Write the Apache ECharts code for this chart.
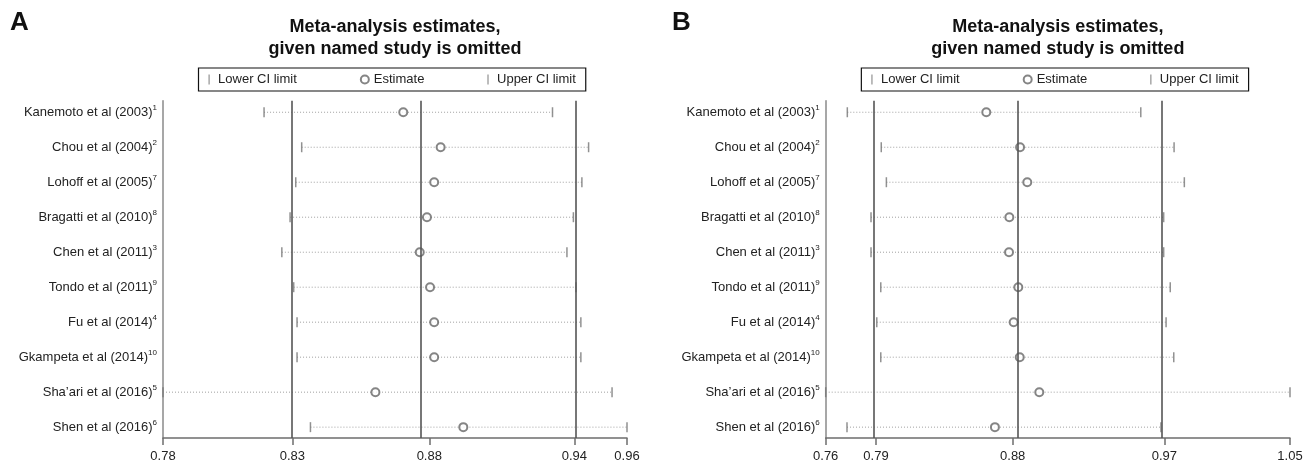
<!DOCTYPE html>
<html>
<head>
<meta charset="utf-8">
<script src="https://cdn.jsdelivr.net/npm/echarts@6/dist/echarts.min.js"></script>
<style>html,body{margin:0;padding:0;background:#fff;}#c{width:1312px;height:468px;}</style>
</head>
<body>
<div id="c"></div>
<script>
// ---- data ----
const studies = ['Kanemoto et al (2003)', 'Chou et al (2004)', 'Lohoff et al (2005)', 'Bragatti et al (2010)', 'Chen et al (2011)', 'Tondo et al (2011)', 'Fu et al (2014)', 'Gkampeta et al (2014)', 'Sha\u2019ari et al (2016)', 'Shen et al (2016)'];
const refNums = ['1', '2', '7', '8', '3', '9', '4', '10', '5', '6'];

const lowerA = [0.8192, 0.8338, 0.8315, 0.8293, 0.8261, 0.8307, 0.8320, 0.8320, 0.7800, 0.8372];
const estA   = [0.8732, 0.8877, 0.8852, 0.8824, 0.8796, 0.8836, 0.8852, 0.8852, 0.8624, 0.8965];
const upperA = [0.9311, 0.9451, 0.9425, 0.9392, 0.9367, 0.9402, 0.9421, 0.9421, 0.9542, 0.9600];
const overallA = [0.8302, 0.8833, 0.9396];
const tickValuesA = [0.7800, 0.8302, 0.8833, 0.9396, 0.9600];
const tickLabelsA = ['0.78', '0.83', '0.88', '0.94', '0.96'];

const lowerB = [0.7735, 0.7947, 0.7979, 0.7883, 0.7883, 0.7944, 0.7919, 0.7944, 0.7600, 0.7733];
const estB   = [0.8603, 0.8814, 0.8859, 0.8747, 0.8745, 0.8803, 0.8774, 0.8812, 0.8934, 0.8657];
const upperB = [0.9568, 0.9776, 0.9840, 0.9711, 0.9711, 0.9752, 0.9726, 0.9774, 1.0500, 0.9694];
const overallB = [0.7914, 0.8768, 0.9715];
const tickValuesB = [0.7600, 0.7914, 0.8768, 0.9715, 1.0500];
const tickLabelsB = ['0.76', '0.79', '0.88', '0.97', '1.05'];

const panelLetters = ['A', 'B'];
const titleText = 'Meta-analysis estimates,\ngiven named study is omitted';
const legendNames = ['Lower CI limit', 'Estimate', 'Upper CI limit'];

// ---- build ----
const FONT = '"Liberation Sans", Arial, Helvetica, sans-serif';
const rowIdx = studies.map((_, i) => i);
const panels = [
  {lower: lowerA, est: estA, upper: upperA, overall: overallA, ticks: tickValuesA, labels: tickLabelsA, left: 163, width: 464, min: 0.78, max: 0.96},
  {lower: lowerB, est: estB, upper: upperB, overall: overallB, ticks: tickValuesB, labels: tickLabelsB, left: 825.7, width: 464.3, min: 0.76, max: 1.05}
];

const grids = [], xAxes = [], yAxes = [], series = [], legends = [], graphics = [];

panels.forEach((p, k) => {
  grids.push({left: p.left, top: 100.7, width: p.width, height: 337.3, containLabel: false});
  xAxes.push({
    type: 'value', gridIndex: k, min: p.min, max: p.max, position: 'bottom',
    axisLine: {show: true, onZero: false, lineStyle: {color: '#6e6e6e', width: 1.5}},
    axisTick: {show: true, length: 7, customValues: p.ticks, lineStyle: {color: '#6e6e6e', width: 1.5}},
    axisLabel: {
      customValues: p.ticks, margin: 12, fontSize: 13, color: '#222', fontFamily: FONT,
      formatter: function (v) {
        let best = 0;
        p.ticks.forEach((t, j) => { if (Math.abs(t - v) < Math.abs(p.ticks[best] - v)) best = j; });
        return p.labels[best];
      }
    },
    splitLine: {show: false}
  });
  yAxes.push({
    type: 'value', gridIndex: k, min: -0.33, max: 9.31, inverse: true, position: 'left',
    axisLine: {show: true, onZero: false, lineStyle: {color: '#8a8a8a', width: 1.5}},
    axisTick: {show: false},
    splitLine: {show: false},
    axisLabel: {
      customValues: rowIdx, margin: 6, fontFamily: FONT,
      formatter: function (v) {
        const i = Math.round(v);
        return '{n|' + studies[i] + '}{s|' + refNums[i] + '}';
      },
      rich: {
        n: {fontSize: 13, color: '#222', fontFamily: FONT, lineHeight: 16},
        s: {fontSize: 8, color: '#222', fontFamily: FONT, lineHeight: 9, verticalAlign: 'top'}
      }
    }
  });

  series.push({
    type: 'custom', name: 'ci' + k, xAxisIndex: k, yAxisIndex: k, silent: true,
    data: rowIdx.map(i => [p.lower[i], p.upper[i], i]),
    encode: {x: [0, 1], y: 2},
    renderItem: function (params, api) {
      const a = api.coord([api.value(0), api.value(2)]);
      const b = api.coord([api.value(1), api.value(2)]);
      return {type: 'line', shape: {x1: a[0], y1: a[1], x2: b[0], y2: b[1]},
        style: {stroke: '#a0a0a0', lineWidth: 1, lineDash: [1, 2]}};
    },
    z: 1
  });
  series.push({
    type: 'scatter', name: legendNames[0], xAxisIndex: k, yAxisIndex: k, silent: true,
    symbol: 'rect', symbolSize: [1.5, 10],
    itemStyle: {color: '#767676'},
    data: rowIdx.map(i => [p.lower[i], i]), z: 3
  });
  series.push({
    type: 'scatter', name: legendNames[1], xAxisIndex: k, yAxisIndex: k, silent: true,
    symbol: 'emptyCircle', symbolSize: 8,
    itemStyle: {color: '#666', borderColor: '#666', borderWidth: 1.1},
    data: rowIdx.map(i => [p.est[i], i]), z: 4,
    markLine: {
      silent: true, symbol: 'none', animation: false,
      label: {show: false},
      lineStyle: {color: '#555', width: 1.6, type: 'solid'},
      data: p.overall.map(v => ({xAxis: v}))
    }
  });
  series.push({
    type: 'scatter', name: legendNames[2], xAxisIndex: k, yAxisIndex: k, silent: true,
    symbol: 'rect', symbolSize: [1.5, 10],
    itemStyle: {color: '#767676'},
    data: rowIdx.map(i => [p.upper[i], i]), z: 3
  });

  const cx = p.left + p.width / 2;
  legends.push({
    left: cx - 196.5, top: 68, orient: 'horizontal',
    backgroundColor: '#fff', borderColor: '#111', borderWidth: 1.2, borderRadius: 0,
    padding: [5, 10, 5, 10], itemGap: 63, itemWidth: 8, itemHeight: 10,
    selectedMode: false,
    textStyle: {fontSize: 13, color: '#222', fontFamily: FONT},
    data: [
      {name: legendNames[0], icon: 'path://M0,0h1.2v10h-1.2z'},
      {name: legendNames[1], icon: 'emptyCircle'},
      {name: legendNames[2], icon: 'path://M0,0h1.2v10h-1.2z'}
    ]
  });
  graphics.push({
    type: 'text', left: k === 0 ? 10 : 672, top: 10,
    style: {text: panelLetters[k], font: 'bold 26px ' + FONT, fill: '#111'}
  });
  graphics.push({
    type: 'text', x: cx, y: 16,
    style: {text: titleText, font: 'bold 18px ' + FONT, fill: '#111', align: 'center', verticalAlign: 'top', lineHeight: 22}
  });
});

const chart = echarts.init(document.getElementById('c'), null, {renderer: 'canvas'});
chart.setOption({
  animation: false,
  backgroundColor: '#fff',
  grid: grids, xAxis: xAxes, yAxis: yAxes, series: series, legend: legends, graphic: graphics
});
</script>
</body>
</html>
